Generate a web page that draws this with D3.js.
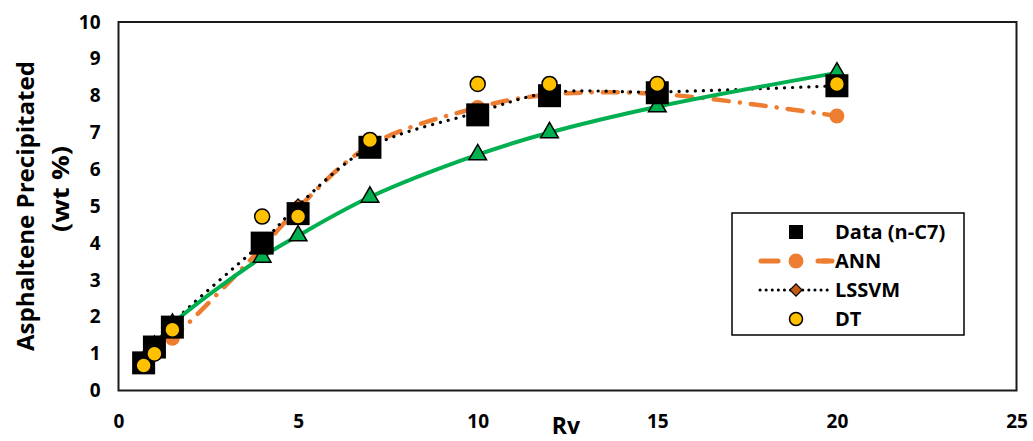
<!DOCTYPE html>
<html>
<head>
<meta charset="utf-8">
<script src="https://cdn.jsdelivr.net/npm/d3@7"></script>
<style>
  html, body { margin: 0; padding: 0; background: #fff; }
  svg { display: block; }
  text { font-family: "Open Sans", Lato, "DejaVu Sans", sans-serif; font-weight: 700; fill: #000; }
</style>
</head>
<body>
<svg id="chart" width="1033" height="441"></svg>
<script>
// Solvent dilution ratio Rv (mL/g)
const rv = [0.7, 1, 1.5, 4, 5, 7, 10, 12, 15, 20];
// Asphaltene precipitated (wt %) for each series
const dataC7 = [0.75, 1.18, 1.72, 4.0, 4.8, 6.6, 7.48, 8.0, 8.08, 8.27];
const ann    = [0.72, 1.05, 1.42, 3.88, 4.95, 6.65, 7.68, 8.03, 8.05, 7.45];
const lssvm  = [0.75, 1.18, 1.82, 4.02, 5.02, 6.6, 7.55, 8.08, 8.1, 8.27];
const dt     = [0.68, 1.0, 1.65, 4.72, 4.72, 6.8, 8.32, 8.32, 8.32, 8.32];
const scaling = [0.8, 1.2, 1.8, 3.62, 4.2, 5.25, 6.4, 7.0, 7.7, 8.62];

const xTicks = [0, 5, 10, 15, 20, 25];
const yTicks = [0, 1, 2, 3, 4, 5, 6, 7, 8, 9, 10];
const legendNames = ["Data (n-C7)", "ANN", "LSSVM", "DT"];

const svg = d3.select("#chart");
const x = d3.scaleLinear().domain([0, 25]).range([118.5, 1016.5]);
const y = d3.scaleLinear().domain([0, 10]).range([390.5, 22]);

const ORANGE = "#ED7D31", GREEN = "#00B050", BROWN = "#C55A11", GOLD = "#FFC000";

// plot frame
svg.append("rect")
  .attr("x", x(0)).attr("y", y(10))
  .attr("width", x(25) - x(0)).attr("height", y(0) - y(10))
  .attr("fill", "none").attr("stroke", "#1a1a1a").attr("stroke-width", 2);

// axes (labels only)
const xAxis = svg.append("g").attr("transform", `translate(0,${y(0)})`)
  .call(d3.axisBottom(x).tickValues(xTicks).tickSize(0).tickPadding(24));
xAxis.select(".domain").remove();
xAxis.selectAll("text").style("font-size", "19px").attr("font-family", null);

const yAxis = svg.append("g").attr("transform", `translate(${x(0)},0)`)
  .call(d3.axisLeft(y).tickValues(yTicks).tickSize(0).tickPadding(18));
yAxis.select(".domain").remove();
yAxis.selectAll("text").style("font-size", "19px").attr("font-family", null);

// axis titles
svg.append("text").attr("x", 566).attr("y", 434)
  .attr("text-anchor", "middle").style("font-size", "23px").text("Rv");
svg.append("text").attr("transform", "translate(34,206) rotate(-90)")
  .attr("text-anchor", "middle").style("font-size", "24px")
  .attr("textLength", 290).attr("lengthAdjust", "spacingAndGlyphs")
  .text("Asphaltene Precipitated");
svg.append("text").attr("transform", "translate(69,189) rotate(-90)")
  .attr("text-anchor", "middle").style("font-size", "24px")
  .attr("textLength", 86).attr("lengthAdjust", "spacingAndGlyphs")
  .text("(wt %)");

const pts = vals => rv.map((r, i) => [x(r), y(vals[i])]);
const plot = svg.append("g");

// ANN: long dash-dot line with round markers
plot.append("path")
  .attr("d", d3.line().curve(d3.curveCatmullRom)(pts(ann)))
  .attr("fill", "none").attr("stroke", ORANGE).attr("stroke-width", 4.5)
  .attr("stroke-linecap", "round").attr("stroke-dasharray", "15,11,0.1,11");
plot.selectAll(".ann").data(pts(ann)).join("circle")
  .attr("cx", d => d[0]).attr("cy", d => d[1]).attr("r", 7.5).attr("fill", ORANGE);

// LSSVM: dotted line with diamonds
plot.append("path")
  .attr("d", d3.line().curve(d3.curveCatmullRom)(pts(lssvm)))
  .attr("fill", "none").attr("stroke", "#000").attr("stroke-width", 3.2)
  .attr("stroke-linecap", "round").attr("stroke-dasharray", "0.1,8");
const dia = d3.symbol().type(d3.symbolDiamond2).size(110);
plot.selectAll(".dia").data(pts(lssvm)).join("path")
  .attr("d", dia).attr("transform", d => `translate(${d[0]},${d[1]})`)
  .attr("fill", BROWN).attr("stroke", "#000").attr("stroke-width", 1.2);

// smooth green fit with triangles
plot.append("path")
  .attr("d", d3.line().curve(d3.curveCatmullRom)(pts(scaling)))
  .attr("fill", "none").attr("stroke", GREEN).attr("stroke-width", 4);
const tri = d3.symbol().type(d3.symbolTriangle).size(135);
plot.selectAll(".tri").data(pts(scaling)).join("path")
  .attr("d", tri).attr("transform", d => `translate(${d[0]},${d[1]})`)
  .attr("fill", GREEN).attr("stroke", "#000").attr("stroke-width", 1.5);

// experimental data squares
plot.selectAll(".sq").data(pts(dataC7)).join("rect")
  .attr("x", d => d[0] - 11.5).attr("y", d => d[1] - 11.5)
  .attr("width", 23).attr("height", 23).attr("fill", "#000");

// DT circles
plot.selectAll(".dt").data(pts(dt)).join("circle")
  .attr("cx", d => d[0]).attr("cy", d => d[1]).attr("r", 7.5)
  .attr("fill", GOLD).attr("stroke", "#000").attr("stroke-width", 1.5);

// legend
const lg = svg.append("g").attr("transform", "translate(732,213)");
lg.append("rect").attr("width", 232).attr("height", 122)
  .attr("fill", "#fff").attr("stroke", "#000").attr("stroke-width", 1.5);
const rowY = [19, 48, 77, 106];
const sx = 64; // sample centre
// Data
lg.append("rect").attr("x", sx - 7).attr("y", rowY[0] - 7).attr("width", 14).attr("height", 14).attr("fill", "#000");
// ANN
lg.append("line").attr("x1", 29).attr("x2", 100).attr("y1", rowY[1]).attr("y2", rowY[1])
  .attr("stroke", ORANGE).attr("stroke-width", 5).attr("stroke-linecap", "round")
  .attr("stroke-dasharray", "17,40");
lg.append("line").attr("x1", 91).attr("x2", 96).attr("y1", rowY[1]).attr("y2", rowY[1])
  .attr("stroke", ORANGE).attr("stroke-width", 5).attr("stroke-linecap", "round");
lg.append("circle").attr("cx", sx).attr("cy", rowY[1]).attr("r", 7.5).attr("fill", ORANGE);
// LSSVM
lg.append("line").attr("x1", 28).attr("x2", 100).attr("y1", rowY[2]).attr("y2", rowY[2])
  .attr("stroke", "#000").attr("stroke-width", 3).attr("stroke-linecap", "round")
  .attr("stroke-dasharray", "0.1,6");
lg.append("path").attr("d", d3.symbol().type(d3.symbolDiamond2).size(95))
  .attr("transform", `translate(${sx},${rowY[2]})`)
  .attr("fill", BROWN).attr("stroke", "#000").attr("stroke-width", 1.2);
// DT
lg.append("circle").attr("cx", sx).attr("cy", rowY[3]).attr("r", 6.5)
  .attr("fill", GOLD).attr("stroke", "#000").attr("stroke-width", 1.5);
lg.selectAll(".lt").data(legendNames).join("text")
  .attr("x", 103).attr("y", (d, i) => rowY[i]).attr("dy", "0.35em")
  .style("font-size", "20px").text(d => d);
</script>
</body>
</html>
